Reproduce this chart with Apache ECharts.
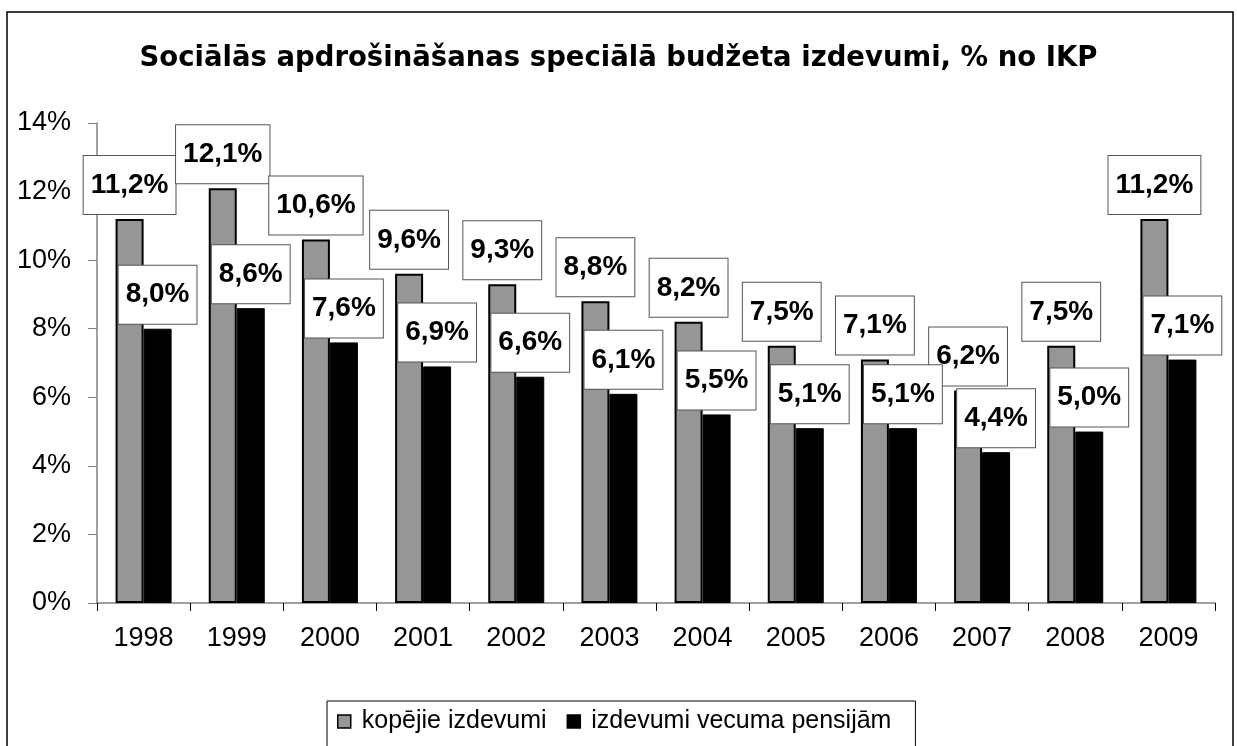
<!DOCTYPE html>
<html>
<head>
<meta charset="utf-8">
<script src="https://cdn.jsdelivr.net/npm/echarts@6/dist/echarts.min.js"></script>
<style>
  html, body { margin: 0; padding: 0; background: #fff; }
  #chart { width: 1237px; height: 746px; }
</style>
</head>
<body>
<div id="chart"></div>
<script>
var years = ['1998', '1999', '2000', '2001', '2002', '2003', '2004', '2005', '2006', '2007', '2008', '2009'];
var totalSpend = [11.2, 12.1, 10.6, 9.6, 9.3, 8.8, 8.2, 7.5, 7.1, 6.2, 7.5, 11.2];
var pensionSpend = [8.0, 8.6, 7.6, 6.9, 6.6, 6.1, 5.5, 5.1, 5.1, 4.4, 5.0, 7.1];
var seriesNames = ['kopējie izdevumi', 'izdevumi vecuma pensijām'];

var myChart = echarts.init(document.getElementById('chart'));

// label in a white box, comma decimal
var boxLabel = {
    show: true,
    position: 'top',
    distance: 5,
    formatter: function (p) { return p.value.toFixed(1).replace('.', ',') + '%'; },
    fontFamily: 'Liberation Sans, Arial, sans-serif',
    fontWeight: 'bold',
    fontSize: 28,
    color: '#000',
    backgroundColor: '#fff',
    borderColor: '#555',
    borderWidth: 1,
    padding: [13, 7, 13, 7],
    lineHeight: 32
};

var option = {
    animation: false,
    backgroundColor: '#fff',
    textStyle: { fontFamily: 'Liberation Sans, Arial, sans-serif' },
    title: {
        text: 'Sociālās apdrošināšanas speciālā budžeta izdevumi, % no IKP',
        left: 'center',
        top: 40,
        textStyle: { fontSize: 27.5, fontWeight: 'bold', color: '#000', fontFamily: 'DejaVu Sans' }
    },
    legend: {
        data: seriesNames,
        left: 327,
        top: 701,
        orient: 'horizontal',
        icon: 'rect',
        borderColor: '#000',
        borderWidth: 1,
        padding: [8, 24, 20, 10],
        itemWidth: 13,
        itemHeight: 13,
        itemGap: 20,
        itemStyle: { borderColor: '#000', borderWidth: 1.5 },
        textStyle: { fontSize: 25, color: '#000', padding: [0, 0, 0, 6] }
    },
    graphic: [{
        type: 'rect',
        shape: { x: 7, y: 12, width: 1226, height: 760 },
        style: { fill: 'none', stroke: '#000', lineWidth: 1.5 },
        silent: true
    }],
    grid: { left: 97, right: 22, top: 123, bottom: 143 },
    xAxis: {
        type: 'category',
        data: years,
        axisLine: { lineStyle: { color: '#808080', width: 1.5 } },
        axisTick: { show: true, length: 8, lineStyle: { color: '#000' } },
        axisLabel: { fontSize: 27, color: '#000', margin: 22 }
    },
    yAxis: {
        type: 'value',
        min: 0,
        max: 14,
        interval: 2,
        axisLine: { show: true, lineStyle: { color: '#808080', width: 1.5 } },
        axisTick: { show: true, length: 9, lineStyle: { color: '#808080' } },
        splitLine: { show: false },
        axisLabel: { fontSize: 27, color: '#000', margin: 26, formatter: '{value}%' }
    },
    series: [{
        name: seriesNames[0],
        type: 'bar',
        data: totalSpend,
        barWidth: 28,
        barGap: '0%',
        itemStyle: { color: '#969696', borderColor: '#000', borderWidth: 2 },
        label: boxLabel
    }, {
        name: seriesNames[1],
        type: 'bar',
        data: pensionSpend,
        barWidth: 28,
        barGap: '0%',
        itemStyle: { color: '#000', borderColor: '#000', borderWidth: 1 },
        label: boxLabel
    }]
};

myChart.setOption(option);
</script>
</body>
</html>
